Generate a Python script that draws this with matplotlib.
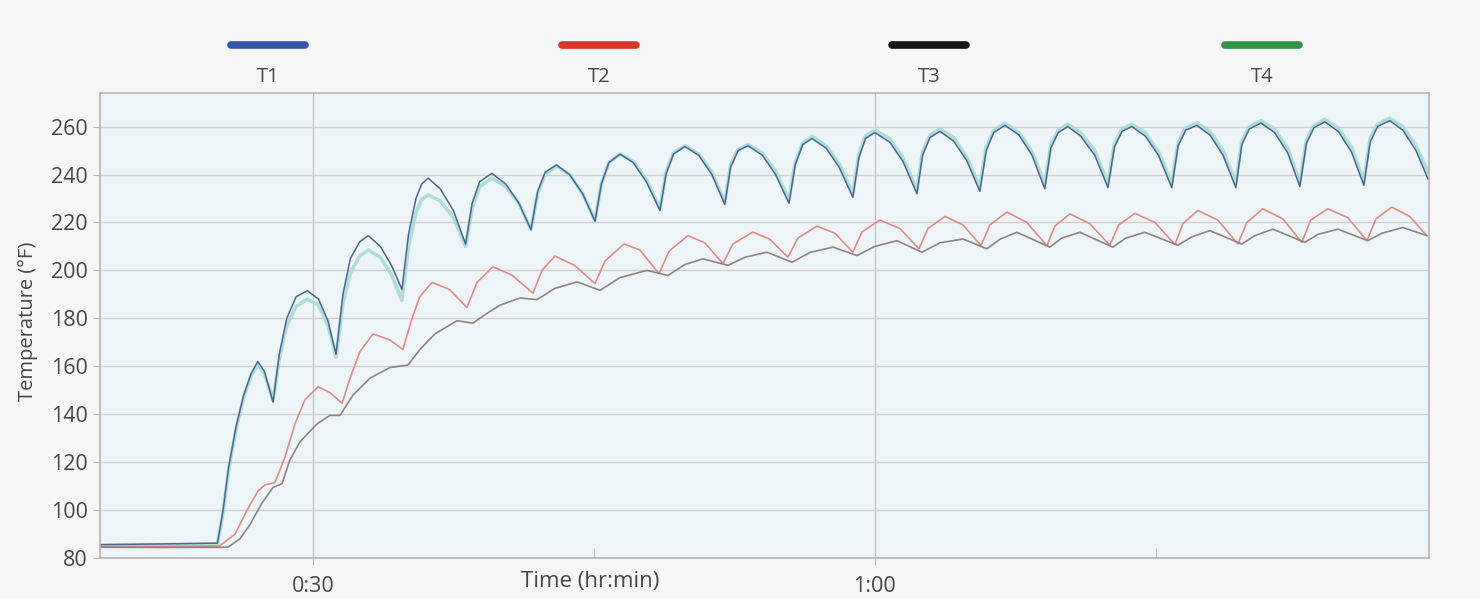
import matplotlib
matplotlib.use("Agg")
import matplotlib.pyplot as plt
from matplotlib.lines import Line2D
from matplotlib.ticker import FixedLocator, FixedFormatter

plt.rcParams['font.family'] = ['Open Sans', 'DejaVu Sans']

# time in minutes, temperature in degF
t_top = [18.6, 21.0, 23.0, 24.9,
         25.2, 25.5, 25.9, 26.3, 26.7, 27.05,
         27.4, 27.87,
         28.2, 28.6, 29.1, 29.7,
         30.3, 30.8, 31.23,
         31.6, 32.0, 32.5, 32.95,
         33.6, 34.2, 34.75,
         35.1, 35.5, 35.8, 36.15,
         36.8, 37.5, 38.15,
         38.5, 38.9, 39.55,
         40.3, 41.0, 41.64,
         42.0, 42.4, 43.0,
         43.7, 44.4, 45.06,
         45.4, 45.8, 46.4,
         47.1, 47.8, 48.53,
         48.85, 49.25, 49.86,
         50.6, 51.3, 51.99,
         52.3, 52.7, 53.23,
         54.0, 54.7, 55.42,
         55.75, 56.15, 56.65,
         57.4, 58.1, 58.83,
         59.15, 59.5, 60.0,
         60.8, 61.5, 62.25,
         62.55, 62.95, 63.48,
         64.2, 64.9, 65.61,
         65.95, 66.35, 66.95,
         67.7, 68.4, 69.08,
         69.4, 69.8, 70.31,
         71.0, 71.75, 72.45,
         72.8, 73.2, 73.73,
         74.45, 75.15, 75.86,
         76.2, 76.6, 77.2,
         77.9, 78.6, 79.28,
         79.6, 80.0, 80.62,
         81.35, 82.05, 82.7,
         83.05, 83.45, 84.03,
         84.75, 85.45, 86.12,
         86.45, 86.85, 87.5,
         88.2, 88.9, 89.55]

t1 = [85.6, 85.8, 86.0, 86.2,
      100, 118, 135, 148, 157, 162,
      158, 145,
      165, 180, 189, 191.5,
      188, 179, 165,
      190, 205, 212, 214.5,
      210, 202, 192,
      215, 230, 236, 238.5,
      234, 225, 211,
      228, 237, 240.5,
      236, 228, 217,
      233, 241, 244,
      240, 232, 220.5,
      236, 245, 248.5,
      245, 237, 225,
      240, 248.5, 251.7,
      248, 240, 227.5,
      243, 250, 252,
      248, 240, 228,
      244, 252.5, 255,
      251, 243, 230.5,
      247, 255, 257.5,
      253.5, 245.5, 232,
      248, 255.5, 258,
      254, 246, 233,
      250, 257.5, 260.5,
      256.5, 248, 234,
      251, 257.5, 260,
      256, 248, 234.5,
      251.5, 258, 260,
      256, 248, 234.5,
      252, 258.5, 260.5,
      256.5, 248, 234.5,
      252.5, 259, 261.5,
      257.5, 249, 235,
      253, 259.5, 262,
      258, 249.5, 235.5,
      253.5, 260, 262.5,
      258.5, 250, 238]

t4 = [85.2, 85.4, 85.6, 85.8,
      99, 117, 134, 147, 156, 160.5,
      157, 146,
      163, 177, 185, 188,
      185.5, 177, 164,
      186, 199, 206, 208.5,
      205.5, 198, 187.5,
      210, 224, 229.5, 231.5,
      229, 222, 210,
      226, 235, 238.5,
      235, 228, 217,
      232, 240, 243.5,
      240, 232, 221,
      236, 245, 248.5,
      245.5, 238, 226,
      241, 249, 252,
      248.5, 241, 228.5,
      244, 250.5, 252.5,
      249, 241.5, 229.5,
      245, 253, 256,
      252, 244.5, 232,
      248.5, 256, 258.5,
      255, 247, 233.5,
      249.5, 256.5, 259,
      255.5, 247.5, 235,
      251.5, 258.5, 261.5,
      257.5, 249.5, 236,
      252.5, 258.5, 261,
      257.5, 250, 236.5,
      253, 259, 261,
      257.5, 249.5, 236.5,
      253.5, 259.5, 261.5,
      258, 250, 236.5,
      254, 260, 262.5,
      259, 251, 237,
      254.5, 260.5, 263,
      259.5, 251.5, 237.5,
      255, 261, 263.5,
      260, 252, 241]

t_t2 = [18.6, 22.0, 25.0, 25.84, 26.48, 27.07, 27.44, 27.97, 28.5, 29.04, 29.57,
        30.27, 30.91, 31.55, 31.98, 32.5, 33.2, 34.11, 34.8, 35.29, 35.7, 36.36,
        37.3, 38.22, 38.76, 39.61, 40.63, 41.75, 42.23, 42.92, 43.99, 45.06,
        45.6, 46.61, 47.46, 48.48, 49.01, 50.02, 50.93, 51.89, 52.42, 53.49,
        54.39, 55.36, 55.9, 56.91, 57.87, 58.83, 59.31, 60.27, 61.34, 62.36,
        62.84, 63.75, 64.71, 65.67, 66.15, 67.06, 68.12, 69.19, 69.62, 70.42,
        71.48, 72.55, 73.03, 73.89, 74.96, 76.03, 76.45, 77.25, 78.32, 79.39,
        79.87, 80.72, 81.79, 82.8, 83.28, 84.19, 85.26, 86.28, 86.76, 87.61,
        88.57, 89.48]
t2 = [84.8, 84.8, 85.0, 90, 100, 108, 110.5, 111.5, 122, 136, 146,
      151.5, 149, 144.5, 155, 166, 173.5, 171, 167, 180, 189, 195,
      192, 184.5, 195, 201.5, 198, 190.5, 200, 206, 202, 194.5,
      204, 211, 208.5, 198.6, 208, 214.5, 211.5, 202.8, 211, 216,
      213, 205.5, 213.5, 218.5, 215.5, 207.6, 216, 221, 217.5, 209,
      217.5, 222.5, 219, 210.3, 219, 224.3, 220, 210.3, 218.5, 223.6,
      219.5, 210.5, 219, 223.8, 220, 210.8, 219.5, 225, 221, 211,
      220, 225.7, 221.5, 211.7, 221, 225.7, 222, 212.4, 221.5, 226.4,
      222.5, 214.5]

t_t3 = [18.6, 22.0, 25.46, 26.1, 26.64, 27.28, 27.87, 28.35, 28.77, 29.31,
        30.22, 30.91, 31.44, 32.14, 33.04, 34.11, 35.07, 35.71, 36.51, 37.69,
        38.54, 39.18, 39.99, 41.05, 41.96, 42.92, 44.1, 45.33, 46.4, 47.83,
        48.96, 49.87, 50.83, 52.16, 53.07, 54.24, 55.58, 56.54, 57.77, 59.05,
        60.0, 61.18, 62.52, 63.48, 64.71, 65.99, 66.68, 67.59, 69.35, 69.99,
        70.95, 72.71, 73.41, 74.42, 76.18, 76.93, 77.89, 79.6, 80.3, 81.26,
        82.96, 83.66, 84.73, 86.33, 87.08, 88.2, 89.48]
t3 = [84.5, 84.4, 84.5, 88, 94, 103, 109.5, 111, 121, 128.5,
      136, 139.5, 139.5, 148, 155, 159.5, 160.5, 167, 173.5, 179,
      178, 181.5, 185.5, 188.5, 187.8, 192.5, 195.2, 191.7, 197, 200,
      197.9, 202.5, 204.8, 202.1, 205.5, 207.6, 203.4, 207.5, 209.7, 206.2,
      210, 212.4, 207.6, 211.5, 213.1, 209, 213, 215.9, 209.7, 213.5,
      215.9, 209.7, 213.5, 215.9, 210.5, 214, 216.6, 211, 214.5, 217.2,
      211.7, 215, 217.2, 212.4, 215.5, 217.9, 214.5]

series_names = ['T1', 'T2', 'T3', 'T4']
legend_colors = ['#3556a8', '#d8352c', '#141414', '#2f9548']

fig = plt.figure(figsize=(14.8, 5.99), dpi=100, facecolor='#f6f6f6')
ax = fig.add_axes([0.0676, 0.0684, 0.898, 0.7763])
ax.set_facecolor('#eef5f8')

# plot lines
ax.plot(t_top, t4, color='#a9dcd4', lw=2.6, alpha=0.9, solid_joinstyle='round')
ax.plot(t_top, t1, color='#4d6592', lw=1.1)
ax.plot(t_t2, t2, color='#de8c86', lw=1.2)
ax.plot(t_t3, t3, color='#8e8283', lw=1.2)

ax.set_xlim(18.63, 89.6)
ax.set_ylim(80, 274)

ax.set_yticks(range(80, 261, 20))
ax.yaxis.grid(True, color='#d3cfcf', lw=1)
ax.xaxis.set_major_locator(FixedLocator([30, 60]))
ax.xaxis.set_major_formatter(FixedFormatter(['0:30', '1:00']))
ax.xaxis.set_minor_locator(FixedLocator([45, 75]))
ax.xaxis.grid(True, which='major', color='#c9c4c4', lw=1)
ax.set_axisbelow(True)

for s in ax.spines.values():
    s.set_color('#b9b2b2')
    s.set_linewidth(1.2)

txt = '#474747'
ax.tick_params(axis='y', direction='out', length=5, color='#b9b2b2',
               labelsize=15.5, labelcolor=txt, pad=4)
ax.tick_params(axis='x', which='major', direction='out', length=5, color='#b9b2b2',
               labelsize=15.5, labelcolor=txt, pad=8)
ax.tick_params(axis='x', which='minor', direction='in', length=7, color='#b9b2b2')

ax.set_ylabel('Temperature (°F)', fontsize=14.5, color=txt)
ax.yaxis.set_label_coords(-0.047, 0.51)
fig.text(0.399, 0.03, 'Time (hr:min)', fontsize=16, color=txt,
         ha='center', va='center')

# legend across the top
leg_x = [0.181, 0.405, 0.628, 0.853]
for name, c, x in zip(series_names, legend_colors, leg_x):
    fig.add_artist(Line2D([x - 0.025, x + 0.025], [0.925, 0.925], color=c, lw=5.5,
                          solid_capstyle='round', transform=fig.transFigure))
    fig.text(x, 0.871, name, fontsize=14.5, color=txt, ha='center', va='center')

fig.savefig('out.png', dpi=100, facecolor=fig.get_facecolor())
